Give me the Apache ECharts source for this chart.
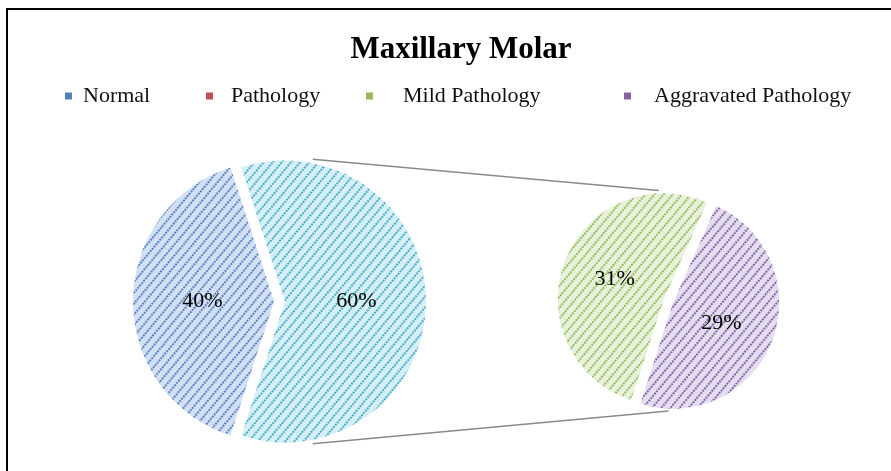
<!DOCTYPE html>
<html>
<head>
<meta charset="utf-8">
<title>Maxillary Molar</title>
<script src="https://cdn.jsdelivr.net/npm/echarts@6/dist/echarts.min.js"></script>
<style>
  html, body { margin: 0; padding: 0; background: #fff; }
  #chart { width: 891px; height: 471px; }
</style>
</head>
<body>
<div id="chart"></div>
<script>
// data (percent of all maxillary molars)
const categories = ['Normal', 'Pathology', 'Mild Pathology', 'Aggravated Pathology'];
const normalValue = 40;
const splitNames = ['Mild Pathology', 'Aggravated Pathology'];
const splitValues = [31, 29];
// pathology slice = sum of the split pie
const mainNames = ['Normal', 'Pathology'];
const mainValues = [normalValue, splitValues.reduce((a, b) => a + b, 0)];

// colours
const legendColors = ['#4f81bd', '#c0504d', '#9bbb59', '#8064a2'];
const mainFills = [['#d3dff2', '#5a84c7'], ['#d6eff6', '#48aec8']];
const splitFills = [['#e8f1dc', '#98bc5a'], ['#e4ddee', '#8566aa']];

// layout
const leftPie = { cx: 279.5, cy: 301.5, r: 141, offset: 5.5 };
const rightPie = { cx: 668.5, cy: 301, r: 106, offset: 5 };
const FONT = '"Liberation Serif", "Times New Roman", serif';

function hatch(pair) {
  return {
    color: pair[0],
    borderWidth: 0,
    decal: {
      symbol: 'rect',
      symbolSize: 1,
      dashArrayX: [2, 1],
      dashArrayY: [2, 4.5],
      rotation: -Math.PI / 3.6,
      color: pair[1]
    }
  };
}

function polar(c, dist, deg) {
  const a = deg * Math.PI / 180;
  return [c.cx + dist * Math.sin(a), c.cy - dist * Math.cos(a)];
}

const leftOther = { cx: leftPie.cx + leftPie.offset, cy: leftPie.cy };
// label nudges (padding shifts the centred text box)
const mainLabelPad = [[8, 0, 0, 4], [8, 4, 0, 0]];
const splitLabelPad = [[8, 0, 0, 6], [4, 8, 0, 0]];

const labelStyle = {
  show: true,
  position: 'inside',
  formatter: '{c}%',
  fontFamily: FONT,
  fontSize: 22,
  color: '#000'
};

// legends placed like the excel one (uneven spacing)
const legendLeft = [60, 201, 361, 619];
const legendPad = [6, 13, 25, 18];
const legends = categories.map((name, i) => ({
  left: legendLeft[i],
  top: 80,
  orient: 'horizontal',
  icon: 'rect',
  itemWidth: 7,
  itemHeight: 7,
  selectedMode: false,
  data: [{ name: name, itemStyle: { color: legendColors[i], decal: 'none' } }],
  textStyle: {
    fontFamily: FONT,
    fontSize: 22,
    color: '#111',
    padding: [0, 0, 0, legendPad[i]]
  }
}));

const option = {
  animation: false,
  backgroundColor: '#fff',
  title: {
    text: 'Maxillary Molar',
    left: 456,
    top: 29,
    textAlign: 'center',
    textStyle: { fontFamily: FONT, fontWeight: 'bold', fontSize: 31, color: '#000' }
  },
  legend: legends,
  graphic: [
    { type: 'polyline', shape: { points: [[7, 471], [7, 9], [891, 9]] },
      style: { stroke: '#000', lineWidth: 2, fill: null } },
    { type: 'line', shape: (() => { const a = polar(leftOther, leftPie.r + 4, 11), b = polar(rightPie, rightPie.r + 5, -5);
        return { x1: a[0], y1: a[1], x2: b[0], y2: b[1] }; })(),
      style: { stroke: '#8a8a8a', lineWidth: 1.5 } },
    { type: 'line', shape: (() => { const a = polar(leftOther, leftPie.r + 4, 169), b = polar(rightPie, rightPie.r + 4, 180);
        return { x1: a[0], y1: a[1], x2: b[0], y2: b[1] }; })(),
      style: { stroke: '#8a8a8a', lineWidth: 1.5 } }
  ],
  series: [
    {
      name: 'main',
      type: 'pie',
      center: [leftPie.cx, leftPie.cy],
      radius: leftPie.r,
      startAngle: 252,
      clockwise: true,
      selectedMode: 'multiple',
      selectedOffset: leftPie.offset,
      avoidLabelOverlap: false,
      label: labelStyle,
      labelLine: { show: false },
      emphasis: { disabled: true },
      data: mainNames.map((n, i) => ({
        name: n,
        value: mainValues[i],
        selected: true,
        itemStyle: hatch(mainFills[i]),
        label: { padding: mainLabelPad[i] }
      }))
    },
    {
      name: 'split',
      type: 'pie',
      center: [rightPie.cx, rightPie.cy],
      radius: rightPie.r,
      startAngle: 252,
      clockwise: true,
      selectedMode: 'multiple',
      selectedOffset: rightPie.offset,
      avoidLabelOverlap: false,
      label: labelStyle,
      labelLine: { show: false },
      emphasis: { disabled: true },
      data: splitNames.map((n, i) => ({
        name: n,
        value: splitValues[i],
        selected: true,
        itemStyle: hatch(splitFills[i]),
        label: { padding: splitLabelPad[i] }
      }))
    }
  ]
};

const myChart = echarts.init(document.getElementById('chart'), null, { renderer: 'canvas' });
myChart.setOption(option);
</script>
</body>
</html>
